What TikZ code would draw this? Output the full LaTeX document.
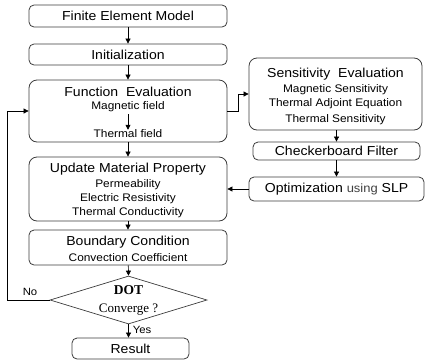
\documentclass[tikz,border=0pt]{standalone}
\usepackage{fontspec}
\setmainfont{Liberation Sans}[FakeStretch=1.08]
\newfontfamily\dotserif{Liberation Serif}
\usetikzlibrary{shapes.geometric,arrows.meta}
\definecolor{edge}{RGB}{60,60,60}
\tikzset{
  box/.style={draw=edge, line width=0.8pt, rounded corners=5pt, inner sep=0pt},
  bigbox/.style={box, rounded corners=8pt},
  ttl/.style={font=\fontsize{13}{15}\selectfont, inner sep=0pt},
  sub/.style={font=\fontsize{11}{13}\selectfont, inner sep=0pt},
  link/.style={-{Triangle[length=5pt,width=5pt]}, line width=0.7pt},
}
\begin{document}
\begin{tikzpicture}[x=1pt,y=-1pt]
\useasboundingbox (0,0) rectangle (427,362);

% main column
\node[box, minimum width=198, minimum height=22] (fem) at (128,16) {};
\node[ttl] (femt) at (fem) {Finite Element Model};

\node[box, minimum width=198, minimum height=21] (init) at (128,54.5) {};
\node[ttl] (initt) at (init) {Initialization};

\node[bigbox, minimum width=198, minimum height=62] (func) at (128,111) {};
\node[ttl] (funct) at (128,92) {Function\ \ Evaluation};
\node[sub] (mag) at (128,107) {Magnetic field};
\node[sub] (therm) at (128,134) {Thermal field};

\node[bigbox, minimum width=198, minimum height=64] (upd) at (128,189) {};
\node[ttl] (updt) at (128,169) {Update Material Property};
\node[sub] (perm) at (128,185) {Permeability};
\node[sub] (res) at (128,199) {Electric Resistivity};
\node[sub] (cond) at (128,213) {Thermal Conductivity};

\node[box, minimum width=198, minimum height=35] (bc) at (128,247.5) {};
\node[ttl] (bct) at (128,242) {Boundary Condition};
\node[sub] (conv) at (128,258) {Convection Coefficient};

\node[diamond, draw=edge, line width=0.7pt, inner sep=0pt,
      minimum width=157, minimum height=48] (dot) at (128.5,300) {};
\node[inner sep=0pt, font=\dotserif\bfseries\fontsize{13.5}{15}\selectfont] (dott) at (128.5,290) {DOT};
\node[inner sep=0pt, font=\dotserif\fontsize{13}{15}\selectfont] (convt) at (128.5,310) {Converge ?};

\node[box, minimum width=117, minimum height=21] (result) at (130.5,348.5) {};
\node[ttl] (resultt) at (result) {Result};

% right column
\node[bigbox, minimum width=173, minimum height=72] (sens) at (335.5,94) {};
\node[ttl] (senst) at (335.5,74) {Sensitivity\ \ Evaluation};
\node[sub] (msens) at (335.5,90) {Magnetic Sensitivity};
\node[sub] (adj) at (335.5,104) {Thermal Adjoint Equation};
\node[sub] (tsens) at (335.5,120) {Thermal Sensitivity};

\node[box, minimum width=167, minimum height=18] (check) at (336.5,151) {};
\node[ttl] (checkt) at (check) {Checkerboard Filter};

\node[box, minimum width=175, minimum height=24] (opt) at (336.5,189) {};
\node[ttl] (optt) at (opt) {Optimization {\fontsize{12}{14}\selectfont\color{black!75}using} SLP};

% labels
\node[sub, font=\fontsize{10.5}{12}\selectfont] (yes) at (142,330) {Yes};
\node[sub, font=\fontsize{10.5}{12}\selectfont] (no) at (30,292) {No};

% connectors
\draw[link] (fem) -- (init);
\draw[link] (init) -- (func);
\draw[link] (mag.south) ++(0,2) coordinate (ma) (ma) -- (therm.north);
\draw[link] (func) -- (upd);
\draw[link] (upd) -- (bc);
\draw[link] (bc) -- (dot.north);
\draw[link] (dot.south) -- (dot.south |- result.north);
\draw[link] (func.east) -- ++(11,0) |- (sens.west);
\draw[link] (sens.south -| check.north) -- (check.north);
\draw[link] (check) -- (opt);
\draw[link] (opt.west) -- (upd.east |- opt.west);
\draw[link] (dot.west) -- ++(-42,0) |- (func.west);
\end{tikzpicture}
\end{document}
